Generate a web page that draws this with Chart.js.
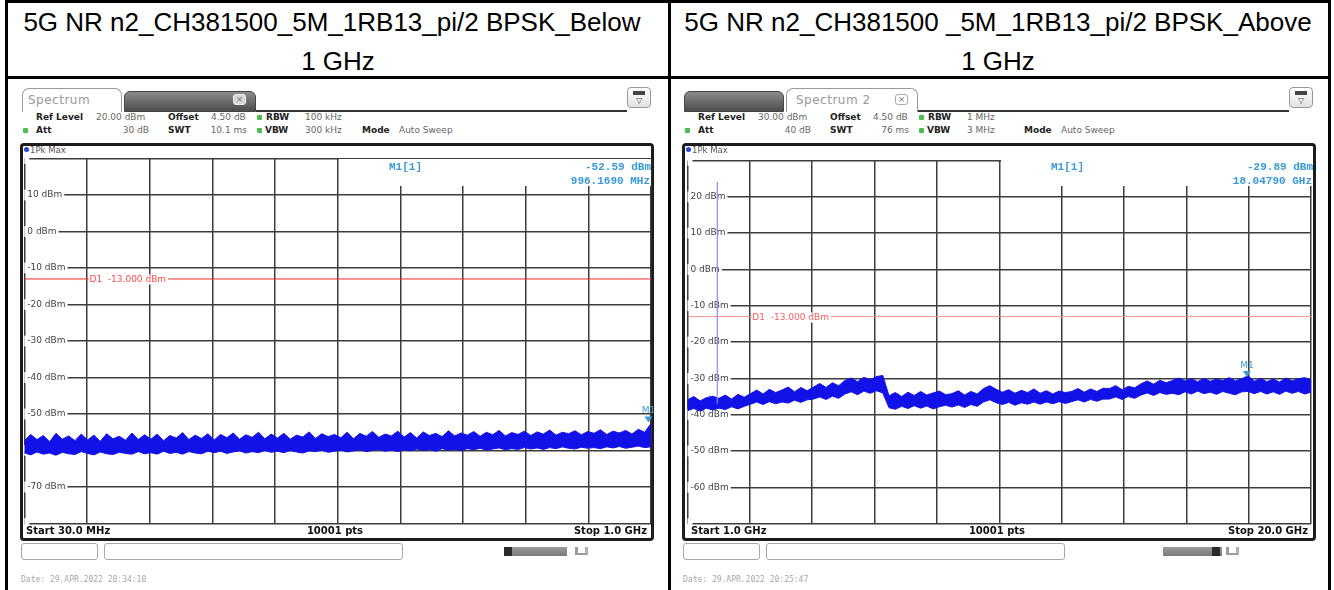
<!DOCTYPE html>
<html>
<head>
<meta charset="utf-8">
<script src="https://cdn.jsdelivr.net/npm/chart.js@4.4.1/dist/chart.umd.min.js"></script>
<style>
  html, body { margin:0; padding:0; background:#fff; }
  #root { position:relative; width:1334px; height:590px; overflow:hidden; }
  #root div { position:absolute; box-sizing:border-box; white-space:nowrap; }
  #root canvas { position:absolute; }
</style>
</head>
<body>
<div id="root"></div>
<script>
// ---------------- DATA ----------------
const titleL1 = "5G NR n2_CH381500_5M_1RB13_pi/2 BPSK_Below";
const titleL2 = "1 GHz";
const titleR1 = "5G NR n2_CH381500 _5M_1RB13_pi/2 BPSK_Above";
const titleR2 = "1 GHz";

// Left: 30 MHz .. 1 GHz (values in GHz), level -80..20 dBm
const freqRangeL = [0.03, 1.0];
const levelRangeL = [-80, 20];
const yTicksL = [20, 10, 0, -10, -20, -30, -40, -50, -60, -70, -80];
const traceUpperL = [
 -57.4,-55.6,-57.0,-55.9,-57.6,-55.3,-56.9,-56.0,-57.3,-55.5,
 -57.1,-55.8,-57.5,-55.4,-56.8,-56.1,-57.2,-55.2,-57.0,-55.7,
 -56.9,-55.5,-57.3,-55.9,-56.6,-55.1,-57.0,-55.8,-56.7,-55.4,
 -57.1,-55.6,-56.5,-55.2,-56.9,-55.7,-56.4,-55.0,-56.8,-55.5,
 -56.6,-55.3,-56.9,-55.8,-56.3,-54.9,-56.7,-55.4,-56.2,-55.6,
 -56.5,-55.0,-56.8,-55.3,-56.1,-54.8,-56.4,-55.5,-56.0,-54.7,
 -56.3,-55.1,-56.6,-54.9,-55.9,-55.3,-56.2,-54.6,-56.0,-55.2,
 -55.8,-54.8,-56.1,-55.0,-55.7,-54.5,-56.0,-55.1,-55.6,-54.7,
 -55.9,-54.9,-55.5,-54.4,-55.8,-55.0,-55.4,-54.6,-55.7,-54.8,
 -55.3,-54.3,-55.6,-54.7,-55.2,-54.5,-55.5,-54.2,-55.0,-52.6
];
const traceLowerL = [
 -60.6,-61.2,-60.4,-61.0,-60.7,-61.3,-60.5,-60.9,-61.1,-60.3,
 -60.8,-61.2,-60.4,-60.9,-61.1,-60.5,-60.8,-61.0,-60.3,-60.9,
 -60.6,-61.0,-60.2,-60.8,-60.5,-61.0,-60.3,-60.7,-60.9,-60.2,
 -60.6,-60.2,-60.8,-60.4,-60.1,-60.7,-60.3,-60.6,-60.0,-60.5,
 -60.2,-60.6,-60.0,-60.4,-60.7,-60.1,-60.3,-59.9,-60.5,-60.2,
 -59.9,-60.4,-60.1,-59.8,-60.3,-60.0,-59.7,-60.2,-59.9,-60.3,
 -59.8,-60.1,-59.6,-60.0,-59.7,-60.2,-59.5,-59.9,-59.7,-60.0,
 -59.5,-59.8,-59.4,-59.9,-59.6,-59.3,-59.8,-59.5,-59.7,-59.2,
 -59.6,-59.3,-59.7,-59.2,-59.5,-59.0,-59.4,-59.6,-59.1,-59.4,
 -59.2,-59.5,-59.0,-59.3,-58.9,-59.4,-59.1,-58.8,-59.2,-59.0
];
const limitL = -13;
const markerFreqL = 0.996169;   // GHz
const markerLevelL = -52.59;    // dBm

// Right: 1 GHz .. 20 GHz, level -70..30 dBm
const freqRangeR = [1.0, 20.0];
const levelRangeR = [-70, 30];
const yTicksR = [30, 20, 10, 0, -10, -20, -30, -40, -50, -60, -70];
const traceUpperR = [
 -35.9,-35.0,-36.2,-35.3,-34.9,
 -35.5,-34.6,-35.7,-34.4,-35.2,
 -34.2,-33.2,-34.3,-33.0,-33.9,
 -33.2,-32.4,-33.7,-32.5,-33.4,
 -32.4,-31.4,-32.5,-31.2,-32.0,
 -30.6,-29.9,-30.9,-29.7,-30.4,-29.5,-29.2,
 -34.8,-33.9,-35.0,-33.8,-34.7,-33.6,-34.6,-34.0,-33.5,-34.5,
 -34.2,-33.4,-34.6,-33.6,-34.3,
 -32.8,-32.0,-33.0,
 -33.8,-33.1,-34.1,-33.3,-33.9,-32.9,
 -34.1,-33.4,-34.3,-33.5,-33.9,
 -33.6,-32.8,-33.8,-32.9,-33.6,-32.7,
 -32.8,-32.0,-33.1,-32.2,-32.6,
 -31.5,-30.7,-31.6,-30.5,-31.2,
 -30.6,-29.9,-30.7,-30.1,-30.9,-30.0,-30.8,-30.2,-30.6,-29.8,-30.7,-30.1,
 -29.3,
 -30.8,-30.0,-30.9,-30.2,-31.0,-29.9,-30.7,-30.1,-29.8,-30.4
];
const traceLowerR = [
 -38.9,-38.3,-39.0,-38.2,-38.7,
 -38.2,-38.6,-37.8,-38.4,-37.7,
 -37.1,-36.5,-37.2,-36.4,-37.0,
 -36.5,-36.8,-36.0,-36.6,-35.9,
 -35.7,-35.1,-35.8,-34.9,-35.5,
 -34.3,-33.7,-34.5,-33.5,-34.1,-33.4,-34.0,
 -38.1,-38.5,-37.7,-38.3,-37.5,-38.2,-37.6,-38.4,-37.8,-37.4,
 -37.9,-37.3,-38.0,-37.2,-37.7,
 -36.5,-35.9,-36.7,
 -37.2,-36.6,-37.4,-36.7,-37.1,-36.5,
 -37.1,-36.5,-37.0,-36.4,-36.9,
 -36.4,-35.9,-36.5,-35.8,-36.3,-35.7,
 -35.7,-35.1,-35.8,-35.0,-35.5,
 -34.6,-34.0,-34.7,-33.9,-34.4,
 -34.1,-34.5,-33.7,-34.3,-33.5,-34.2,-33.8,-34.4,-33.6,-34.1,-34.5,-33.7,
 -33.6,
 -34.2,-33.6,-34.3,-33.7,-34.4,-33.5,-34.1,-33.6,-34.3,-33.8
];
const carrierFreqR = 1.9075;          // GHz
const carrierLevelsR = [-37.0, 24.1]; // dBm (foot, top)
const limitR = -13;
const markerFreqR = 18.0479;
const markerLevelR = -29.89;

const headerL = ["20.00 dBm", "4.50 dB", "100 kHz", "30 dB", "10.1 ms", "300 kHz", "Auto Sweep"];
const headerR = ["30.00 dBm", "4.50 dB", "1 MHz", "40 dB", "76 ms", "3 MHz", "Auto Sweep"];
const bottomL = ["Start 30.0 MHz", "10001 pts", "Stop 1.0 GHz"];
const bottomR = ["Start 1.0 GHz", "10001 pts", "Stop 20.0 GHz"];
const dateL = "Date: 29.APR.2022  20:34:10";
const dateR = "Date: 29.APR.2022  20:25:47";

// ---------------- DOM helpers ----------------
const C = document.getElementById('root');
function box(x, y, w, h, style) {
  const d = document.createElement('div');
  Object.assign(d.style, {left: x + 'px', top: y + 'px', width: w + 'px', height: h + 'px'}, style || {});
  C.appendChild(d); return d;
}
function text(x, cy, str, o) {
  o = o || {};
  const size = o.size || 9;
  const lh = Math.round(size * 1.4);
  const d = document.createElement('div');
  let left = x, width = null;
  if (o.align === 'right') { left = x - 500; width = 500; }
  else if (o.align === 'center') { left = x - 400; width = 800; }
  Object.assign(d.style, {
    left: left + 'px', top: (cy - lh / 2) + 'px', height: lh + 'px', lineHeight: lh + 'px',
    fontSize: size + 'px', fontFamily: o.family || '"DejaVu Sans", sans-serif',
    fontWeight: o.bold ? 'bold' : 'normal', color: o.color || '#222', textAlign: o.align || 'left'
  });
  if (width) d.style.width = width + 'px';
  if (o.extra) Object.assign(d.style, o.extra);
  d.textContent = str;
  C.appendChild(d); return d;
}

// ---------------- table ----------------
box(5, 0, 1326, 2.5, {background: '#000'});
box(5, 76, 1326, 2.5, {background: '#000'});
box(5, 0, 2.5, 590, {background: '#000'});
box(668, 0, 2.5, 590, {background: '#000'});
box(1328, 0, 2.5, 590, {background: '#000'});
const TF = '"Liberation Sans", Arial, sans-serif';
text(332, 22, titleL1, {size: 26, family: TF, color: '#000', align: 'center'});
text(338, 60.5, titleL2, {size: 26, family: TF, color: '#000', align: 'center'});
text(998, 22, titleR1, {size: 26, family: TF, color: '#000', align: 'center'});
text(998, 60.5, titleR2, {size: 26, family: TF, color: '#000', align: 'center'});

// ---------------- chart plugin ----------------
const overlayPlugin = {
  id: 'overlay',
  afterDatasetsDraw(chart) {
    const c = chart.options.plugins.overlay;
    if (!c) return;
    const {ctx} = chart; const x = chart.scales.x, y = chart.scales.y;
    ctx.save();
    const yp = Math.round(y.getPixelForValue(c.limit)) + 0.5;
    const xp = x.getPixelForValue(c.labelAt) + 1.5;
    ctx.font = '9px "DejaVu Sans"';
    const w = ctx.measureText(c.limitText).width;
    ctx.fillStyle = '#fff';
    ctx.fillRect(xp, yp - 5, w + 3, 10);
    ctx.fillStyle = c.limitTextColor;
    ctx.textBaseline = 'middle'; ctx.textAlign = 'left';
    ctx.fillText(c.limitText, xp + 1, yp + 0.5);
    const mx = x.getPixelForValue(c.marker[0]);
    const my = y.getPixelForValue(c.marker[1]);
    ctx.fillStyle = '#3c9ad8';
    ctx.beginPath();
    ctx.moveTo(mx - 4, my - 7); ctx.lineTo(mx + 4, my - 7); ctx.lineTo(mx, my - 1); ctx.closePath();
    ctx.fill();
    ctx.font = '9px "DejaVu Sans"';
    ctx.textAlign = 'center'; ctx.textBaseline = 'alphabetic';
    ctx.fillText('M1', mx, my - 10);
    ctx.restore();
  }
};

function zeroFit(s) {
  if (s.isHorizontal()) s.height = 0; else s.width = 0;
  s.paddingTop = 0; s.paddingBottom = 0; s.paddingLeft = 0; s.paddingRight = 0;
}

const traceColor = '#1212e8';
const gridColor = '#3c3c3c';
function makeSpectrum(canvas, p) {
  const n = p.upper.length;
  const step = (p.freq[1] - p.freq[0]) / (n - 1);
  const up = p.upper.map((v, i) => ({x: p.freq[0] + i * step, y: v}));
  const lo = p.lower.map((v, i) => ({x: p.freq[0] + i * step, y: v}));
  const gridX = Array.from({length: 11}, (_, i) => p.freq[0] + i * (p.freq[1] - p.freq[0]) / 10);
  const datasets = [
    {data: up, borderColor: traceColor, backgroundColor: traceColor, borderWidth: 1, pointRadius: 0, fill: '+1', tension: 0, order: 1},
    {data: lo, borderColor: traceColor, backgroundColor: traceColor, borderWidth: 1, pointRadius: 0, fill: false, tension: 0, order: 1},
    {data: [{x: p.freq[0], y: p.limit}, {x: p.freq[1], y: p.limit}], borderColor: p.limitColor, borderWidth: 1, pointRadius: 0, fill: false, order: 2}
  ];
  if (p.carrier) {
    datasets.push({data: p.carrier.levels.map(v => ({x: p.carrier.freq, y: v})), borderColor: '#8a8aff', borderWidth: 1.2, pointRadius: 0, fill: false, order: 0});
  }
  return new Chart(canvas, {
    type: 'line',
    data: {datasets},
    plugins: [overlayPlugin],
    options: {
      responsive: false, animation: false, devicePixelRatio: 1,
      layout: {padding: p.pad},
      plugins: {
        legend: {display: false}, tooltip: {enabled: false},
        overlay: {limit: p.limit, labelAt: gridX[1], limitText: 'D1  -13.000 dBm', limitTextColor: p.limitTextColor, marker: p.marker}
      },
      scales: {
        x: {
          type: 'linear', min: p.freq[0], max: p.freq[1],
          afterBuildTicks: s => { s.ticks = gridX.map(v => ({value: v})); },
          afterFit: zeroFit,
          ticks: {display: false},
          grid: {color: gridColor, lineWidth: 1.5, drawTicks: false},
          border: {display: false}
        },
        y: {
          type: 'linear', min: p.level[0], max: p.level[1],
          afterBuildTicks: s => { s.ticks = p.yTicks.map(v => ({value: v})); },
          afterFit: zeroFit,
          ticks: {
            mirror: true, padding: 3, color: '#444',
            font: {family: 'DejaVu Sans', size: 9},
            callback: v => (v === p.level[0] || v === p.level[1]) ? '' : v + ' dBm',
            showLabelBackdrop: true, backdropColor: '#fff',
            backdropPadding: {top: 0, bottom: 0, left: 3, right: 2}
          },
          grid: {color: gridColor, lineWidth: 1.5, drawTicks: false},
          border: {display: false}
        }
      }
    }
  });
}

// ---------------- panels ----------------
function buildPanel(ox, P) {
  const slotA = {x: 22, w: 100}, slotB = {x: 124, w: 132};
  const act = P.activeTab === 0 ? slotA : slotB;
  const ina = P.activeTab === 0 ? slotB : slotA;
  box(ox + ina.x, 91, ina.w, 21, {background: 'linear-gradient(#8c8c8c,#4c4c4c)', borderRadius: '6px 6px 0 0', border: '1px solid #444'});
  box(ox + act.x, 88, act.w, 24, {background: '#fff', border: '1px solid #9a9a9a', borderBottom: 'none', borderRadius: '7px 7px 0 0'});
  text(ox + act.x + (P.activeTab === 0 ? 6 : 10), 100.5, P.tabLabel, {size: 12, color: '#9a9a9a', extra: {letterSpacing: '0.5px'}});
  box(ox + 233, 94, 13, 11, {border: '1px solid ' + (P.activeTab === 1 ? '#aaa' : '#eee'), borderRadius: '3px', background: P.activeTab === 1 ? '#fff' : '#d8d8d8'});
  text(ox + 239.5, 99.5, '×', {size: 9, color: '#777', align: 'center'});
  box(ox + 256, 110, 371, 2, {background: '#333'});
  box(ox + 627, 87, 24, 21, {border: '1px solid #999', borderRadius: '4px', background: 'linear-gradient(#fff,#e2e2e2)'});
  box(ox + 633, 91, 12, 4, {background: '#444'});
  text(ox + 639, 100, '▽', {size: 8, color: '#555', align: 'center'});

  const H = P.header;
  const b = {bold: true, color: '#222'}, v = {color: '#666'};
  const r1 = 117.5, r2 = 130.5;
  text(ox + 36, r1, 'Ref Level', b); text(ox + 96, r1, H[0], v);
  text(ox + 168, r1, 'Offset', b); text(ox + 211, r1, H[1], v);
  box(ox + 257, r1 - 2.5, 5, 5, {background: '#4cbc4c', borderRadius: '1px'});
  text(ox + 266, r1, 'RBW', b); text(ox + 305, r1, H[2], v);
  box(ox + 23, r2 - 2.5, 5, 5, {background: '#4cbc4c', borderRadius: '1px'});
  text(ox + 36, r2, 'Att', b); text(ox + 149, r2, H[3], Object.assign({align: 'right'}, v));
  text(ox + 168, r2, 'SWT', b); text(ox + 247, r2, H[4], Object.assign({align: 'right'}, v));
  box(ox + 257, r2 - 2.5, 5, 5, {background: '#4cbc4c', borderRadius: '1px'});
  text(ox + 265, r2, 'VBW', b); text(ox + 305, r2, H[5], v);
  text(ox + 362, r2, 'Mode', b); text(ox + 399, r2, H[6], v);

  box(ox + 20, 143, 634, 398, {border: '3px solid #1c1c1c', borderRadius: '4px', background: '#fff'});
  box(ox + 24, 147, 5, 5, {background: '#2846d6', borderRadius: '50%'});
  text(ox + 30, 149.5, '1Pk Max', {size: 8.5, color: '#555'});

  const cv = document.createElement('canvas');
  cv.width = P.canvas[2]; cv.height = P.canvas[3];
  Object.assign(cv.style, {left: P.canvas[0] + 'px', top: P.canvas[1] + 'px', width: P.canvas[2] + 'px', height: P.canvas[3] + 'px'});
  C.appendChild(cv);
  makeSpectrum(cv, P.chart);

  box(ox + 339, 159, 312, 27, {background: '#fff'});
  const MF = '"Liberation Mono", "DejaVu Sans Mono", monospace';
  const mc = {size: 11, family: MF, color: '#3a9ad8', bold: true};
  text(ox + 389, 167, 'M1[1]', mc);
  text(ox + 651, 167, P.markerLevelText, Object.assign({align: 'right'}, mc));
  text(ox + 650, 181, P.markerFreqText, Object.assign({align: 'right'}, mc));

  const B = P.bottom;
  text(ox + P.bottomX[0], 531, B[0], {size: 10, bold: true, color: '#111'});
  text(ox + 335, 531, B[1], {size: 10, bold: true, color: '#111', align: 'center'});
  text(ox + P.bottomX[1], 531, B[2], {size: 10, bold: true, color: '#111', align: 'right'});

  box(ox + 21, 543, 77, 17, {border: '1px solid #a8a8a8', borderRadius: '3px'});
  box(ox + 104, 543, 299, 17, {border: '1px solid #a8a8a8', borderRadius: '3px'});
  box(ox + P.bar[0], 547, P.bar[1], 9, {background: 'linear-gradient(#9a9a9a,#7a7a7a)'});
  box(ox + P.bar[2], 547, 8, 9, {background: '#2a2a2a'});
  box(ox + P.bar[3], 547, 13, 8, {borderLeft: '3px solid #9a9a9a', borderBottom: '2px solid #9a9a9a', borderRight: '3px solid #b0b0b0'});

  text(ox + 21, 579, P.date, {size: 8, family: '"DejaVu Sans Mono", monospace', color: '#a8a8a8'});
}

buildPanel(0, {
  activeTab: 0, tabLabel: 'Spectrum', header: headerL, bottom: bottomL, bottomX: [26, 647],
  bar: [504, 63, 504, 575], date: dateL,
  markerLevelText: markerLevelL.toFixed(2) + ' dBm',
  markerFreqText: (markerFreqL * 1000).toFixed(4) + ' MHz',
  canvas: [21, 155, 633, 372],
  chart: {
    freq: freqRangeL, level: levelRangeL, yTicks: yTicksL, upper: traceUpperL, lower: traceLowerL,
    limit: limitL, limitColor: '#ff2a2a', limitTextColor: '#ff4a4a',
    marker: [markerFreqL, markerLevelL],
    pad: {left: 3.3, right: 3, top: 3.5, bottom: 3.5}
  }
});
buildPanel(662, {
  activeTab: 1, tabLabel: 'Spectrum 2', header: headerR, bottom: bottomR, bottomX: [29, 646],
  bar: [501, 59, 550, 564], date: dateR,
  markerLevelText: markerLevelR.toFixed(2) + ' dBm',
  markerFreqText: markerFreqR.toFixed(5) + ' GHz',
  canvas: [684, 157, 630, 370],
  chart: {
    freq: freqRangeR, level: levelRangeR, yTicks: yTicksR, upper: traceUpperR, lower: traceLowerR,
    limit: limitR, limitColor: '#f29090', limitTextColor: '#ff5a5a',
    marker: [markerFreqR, markerLevelR],
    carrier: {freq: carrierFreqR, levels: carrierLevelsR},
    pad: {left: 3.5, right: 3, top: 3.4, bottom: 3.3}
  }
});
</script>
</body>
</html>
